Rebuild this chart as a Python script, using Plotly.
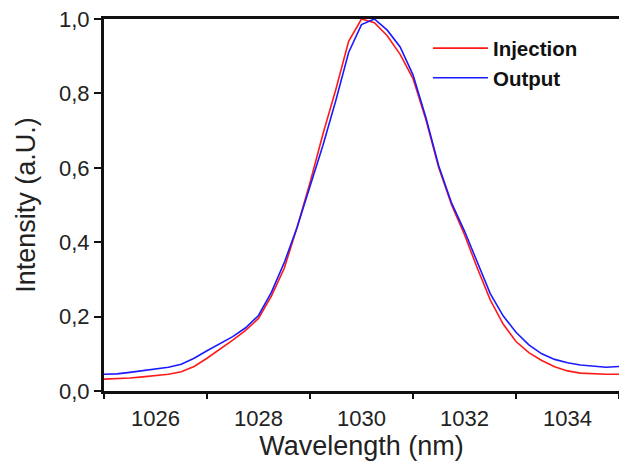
import plotly.graph_objects as go

wavelength = [1025.0, 1025.25, 1025.5, 1025.75, 1026.0, 1026.25, 1026.5, 1026.75,
              1027.0, 1027.25, 1027.5, 1027.75, 1028.0, 1028.25, 1028.5, 1028.75,
              1029.0, 1029.25, 1029.5, 1029.75, 1030.0, 1030.25, 1030.5, 1030.75,
              1031.0, 1031.25, 1031.5, 1031.75, 1032.0, 1032.25, 1032.5, 1032.75,
              1033.0, 1033.25, 1033.5, 1033.75, 1034.0, 1034.25, 1034.5, 1034.75, 1035.0]

injection = [0.032, 0.033, 0.035, 0.038, 0.041, 0.045, 0.052, 0.066,
             0.088, 0.112, 0.137, 0.163, 0.195, 0.255, 0.33, 0.44,
             0.56, 0.69, 0.81, 0.94, 1.0, 0.99, 0.955, 0.905,
             0.84, 0.73, 0.60, 0.50, 0.42, 0.33, 0.245, 0.18,
             0.133, 0.103, 0.082, 0.065, 0.054, 0.048, 0.046, 0.045, 0.045]

output = [0.045, 0.046, 0.050, 0.055, 0.060, 0.064, 0.072, 0.088,
          0.108, 0.127, 0.146, 0.170, 0.203, 0.265, 0.345, 0.44,
          0.55, 0.66, 0.78, 0.91, 0.985, 1.0, 0.97, 0.925,
          0.85, 0.735, 0.605, 0.505, 0.43, 0.345, 0.262, 0.202,
          0.158, 0.124, 0.100, 0.085, 0.076, 0.070, 0.066, 0.064, 0.066]

x_major_ticks = [1026, 1028, 1030, 1032, 1034]
x_minor_ticks = [1025, 1027, 1029, 1031, 1033, 1035]
y_ticks = [0.0, 0.2, 0.4, 0.6, 0.8, 1.0]

fig = go.Figure()
fig.add_trace(go.Scatter(x=wavelength, y=injection, mode="lines", name="Injection",
                         line=dict(color="#ff1a1a", width=1.6)))
fig.add_trace(go.Scatter(x=wavelength, y=output, mode="lines", name="Output",
                         line=dict(color="#1a1aff", width=1.6)))

font_family = "Liberation Sans, Arial, sans-serif"

fig.update_layout(
    width=619, height=466,
    margin=dict(l=104, r=0, t=19, b=75, autoexpand=False),
    paper_bgcolor="white", plot_bgcolor="white",
    separators=",.",
    font=dict(family=font_family, color="#222222"),
    showlegend=True,
    legend=dict(
        x=0.629, y=0.975, xanchor="left", yanchor="top",
        bgcolor="rgba(0,0,0,0)", borderwidth=0,
        font=dict(size=20.5, color="#111111", family=font_family, weight="bold"),
        tracegroupgap=0, itemwidth=55,
    ),
    xaxis=dict(
        range=[1025, 1035], automargin=False,
        tickvals=x_major_ticks, ticklabeloverflow="allow",
        ticks="outside", ticklen=6, tickcolor="rgba(0,0,0,0)",
        tickfont=dict(size=22, color="#222222"),
        showline=True, linecolor="#111111", linewidth=3, mirror=True,
        showgrid=False, zeroline=False,
        minor=dict(tickvals=x_minor_ticks, ticks="outside", ticklen=5,
                   tickwidth=2, tickcolor="#111111", showgrid=False),
        title=dict(text="Wavelength (nm)", font=dict(size=27, color="#222222"), standoff=4),
    ),
    yaxis=dict(
        range=[0, 1.0], automargin=False,
        tickvals=y_ticks, tickformat=".1f", ticklabeloverflow="allow",
        ticks="outside", ticklen=7, tickwidth=2, tickcolor="#111111",
        tickfont=dict(size=22, color="#222222"),
        showline=True, linecolor="#111111", linewidth=3, mirror=False,
        showgrid=False, zeroline=False,
        title=dict(text="Intensity (a.U.)", font=dict(size=27, color="#222222"), standoff=16),
    ),
)

fig.write_html(
    "out.html",
    config={"displayModeBar": False},
    post_script="document.body.style.margin='0';document.body.style.overflow='hidden';",
)
